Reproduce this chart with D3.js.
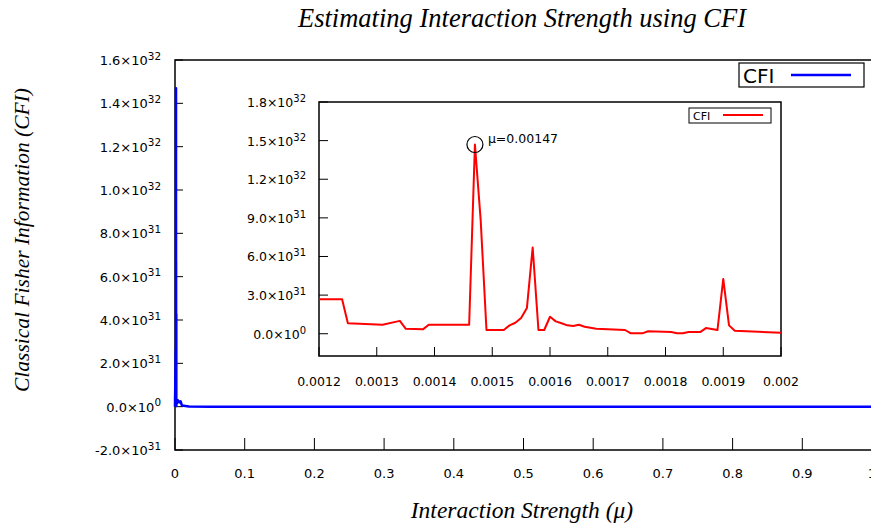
<!DOCTYPE html>
<html lang="en">
<head>
    <meta charset="UTF-8">
    <title>CFI</title>
    <script src="https://cdn.jsdelivr.net/npm/d3@7"></script>
    <style>
        body { margin: 0; background: #fff; }
        svg { display: block; }
        .tick-label { font-family: "DejaVu Sans", sans-serif; fill: #000; }
        .serif { font-family: "Liberation Serif", "Times New Roman", serif; font-style: italic; fill: #000; }
    </style>
</head>
<body>
<div id="chart"></div>
<script>
    // inset data (zoom on the peak region)
    var insetMu = [0.0012, 0.00124, 0.00125, 0.00131, 0.00134, 0.00135, 0.00138, 0.00139, 0.00146,
        0.00147, 0.00148, 0.00149, 0.00152, 0.00153, 0.00154, 0.00155, 0.00156, 0.00157, 0.00158,
        0.00159, 0.0016, 0.00161, 0.00162, 0.00163, 0.00164, 0.00165, 0.00166, 0.00168, 0.00173,
        0.00174, 0.00176, 0.00177, 0.00181, 0.00182, 0.00183, 0.00184, 0.00186, 0.00187, 0.00189,
        0.0019, 0.00191, 0.00192, 0.002];
    var insetCfi = [2.67e31, 2.67e31, 0.81e31, 0.70e31, 1.0e31, 0.39e31, 0.34e31, 0.70e31, 0.70e31,
        1.47e32, 8.8e31, 0.29e31, 0.29e31, 0.65e31, 0.85e31, 1.22e31, 1.99e31, 6.7e31, 0.29e31,
        0.29e31, 1.32e31, 0.96e31, 0.81e31, 0.65e31, 0.60e31, 0.70e31, 0.54e31, 0.39e31, 0.29e31,
        0.03e31, 0.03e31, 0.19e31, 0.13e31, 0.03e31, 0.03e31, 0.13e31, 0.13e31, 0.44e31, 0.29e31,
        4.26e31, 0.65e31, 0.23e31, 0.08e31];

    // rest of the full range for the main plot
    var headMu = [0.0001, 0.0005, 0.001];
    var headCfi = [0.4e31, 1.2e31, 2.5e31];
    var tailMu = [0.0025, 0.004, 0.006, 0.008, 0.01, 0.02, 0.05, 0.1, 0.2, 0.5, 1.0];
    var tailCfi = [0.15e31, 0.3e31, 0.2e31, 0.25e31, 0.05e31, 0.01e31, 0, 0, 0, 0, 0];

    var mainYTicks = [-2e31, 0, 2e31, 4e31, 6e31, 8e31, 1e32, 1.2e32, 1.4e32, 1.6e32];
    var mainXTicks = [0, 0.1, 0.2, 0.3, 0.4, 0.5, 0.6, 0.7, 0.8, 0.9, 1];
    var insetYTicks = [0, 3e31, 6e31, 9e31, 1.2e32, 1.5e32, 1.8e32];
    var insetXTicks = [0.0012, 0.0013, 0.0014, 0.0015, 0.0016, 0.0017, 0.0018, 0.0019, 0.002];

    var peakMu = 0.00147, peakCfi = 1.47e32;

    var width = 871, height = 525;

    var svg = d3.select("#chart").append("svg")
        .attr("width", width)
        .attr("height", height);

    // mantissa x 10^exp label
    function sciLabel(sel, v, size) {
        var m, e;
        if (v === 0) { m = "0.0"; e = "0"; }
        else {
            e = Math.floor(Math.log10(Math.abs(v)));
            m = (v / Math.pow(10, e)).toFixed(1);
        }
        sel.text(null);
        sel.append("tspan").text(m + "\u00d710");
        sel.append("tspan").attr("dy", -size * 0.4).attr("font-size", size * 0.8).text(e);
    }

    var mainData = headMu.concat(insetMu, tailMu).map(function (d, i) {
        return [d, headCfi.concat(insetCfi, tailCfi)[i]];
    });
    var insetData = insetMu.map(function (d, i) { return [d, insetCfi[i]]; });

    // ---- main plot
    var m = { left: 175, right: 872, top: 60, bottom: 450 };
    var x = d3.scaleLinear().domain([0, 1]).range([m.left, m.right]);
    var y = d3.scaleLinear().domain([-2e31, 1.6e32]).range([m.bottom, m.top]);

    var main = svg.append("g");

    main.append("rect")
        .attr("x", m.left).attr("y", m.top)
        .attr("width", m.right - m.left).attr("height", m.bottom - m.top)
        .attr("fill", "none").attr("stroke", "#000").attr("stroke-width", 1.5);

    main.selectAll(".ytick").data(mainYTicks).enter().append("line")
        .attr("x1", m.left).attr("x2", m.left + 8)
        .attr("y1", d => y(d)).attr("y2", d => y(d))
        .attr("stroke", "#000");

    main.selectAll(".ylab").data(mainYTicks).enter().append("text")
        .attr("class", "tick-label")
        .attr("x", 161).attr("y", d => y(d) + 5)
        .attr("text-anchor", "end").attr("font-size", 13)
        .each(function (d) { sciLabel(d3.select(this), d, 13); });

    main.selectAll(".xtick").data(mainXTicks).enter().append("line")
        .attr("x1", d => x(d)).attr("x2", d => x(d))
        .attr("y1", m.bottom).attr("y2", m.bottom - 12)
        .attr("stroke", "#000");

    main.selectAll(".xlab").data(mainXTicks).enter().append("text")
        .attr("class", "tick-label")
        .attr("x", d => x(d)).attr("y", 478)
        .attr("text-anchor", "middle").attr("font-size", 13)
        .text(d => d);

    var line = d3.line().x(d => x(d[0])).y(d => y(d[1]));
    main.append("path")
        .datum([[0, 0]].concat(mainData))
        .attr("d", line)
        .attr("fill", "none").attr("stroke", "#0000ff").attr("stroke-width", 2.5)
        .attr("stroke-linejoin", "round");

    // main legend
    main.append("rect").attr("x", 739).attr("y", 63).attr("width", 125).attr("height", 24)
        .attr("fill", "#fff").attr("stroke", "#000").attr("stroke-width", 1.2);
    main.append("text").attr("class", "tick-label").attr("x", 743).attr("y", 83)
        .attr("font-size", 20).text("CFI");
    main.append("line").attr("x1", 791).attr("x2", 851).attr("y1", 75).attr("y2", 75)
        .attr("stroke", "#0000ff").attr("stroke-width", 2.5);

    // ---- inset
    var n = { left: 319, right: 781, top: 102, bottom: 356 };
    var xi = d3.scaleLinear().domain([0.0012, 0.002]).range([n.left, n.right]);
    var yi = d3.scaleLinear().domain([-1.73e31, 1.8e32]).range([n.bottom, n.top]);

    var inset = svg.append("g");

    inset.append("rect")
        .attr("x", n.left).attr("y", n.top)
        .attr("width", n.right - n.left).attr("height", n.bottom - n.top)
        .attr("fill", "#fff").attr("stroke", "#000").attr("stroke-width", 1.5);

    inset.selectAll(".ytick").data(insetYTicks).enter().append("line")
        .attr("x1", n.left).attr("x2", n.left + 9)
        .attr("y1", d => yi(d)).attr("y2", d => yi(d))
        .attr("stroke", "#000");

    inset.selectAll(".ylab").data(insetYTicks).enter().append("text")
        .attr("class", "tick-label")
        .attr("x", 306).attr("y", d => yi(d) + 5)
        .attr("text-anchor", "end").attr("font-size", 12.5)
        .each(function (d) { sciLabel(d3.select(this), d, 12.5); });

    inset.selectAll(".xtick").data(insetXTicks).enter().append("line")
        .attr("x1", d => xi(d)).attr("x2", d => xi(d))
        .attr("y1", n.bottom).attr("y2", n.bottom - 9)
        .attr("stroke", "#000");

    inset.selectAll(".xlab").data(insetXTicks).enter().append("text")
        .attr("class", "tick-label")
        .attr("x", d => xi(d)).attr("y", 386)
        .attr("text-anchor", "middle").attr("font-size", 12.5)
        .text(d => d3.format("")(+d.toFixed(4)));

    var lineI = d3.line().x(d => xi(d[0])).y(d => yi(d[1]));
    inset.append("path")
        .datum(insetData)
        .attr("d", lineI)
        .attr("fill", "none").attr("stroke", "#ff0000").attr("stroke-width", 2)
        .attr("stroke-linejoin", "round");

    inset.append("circle")
        .attr("cx", xi(peakMu)).attr("cy", yi(peakCfi)).attr("r", 8)
        .attr("fill", "none").attr("stroke", "#000").attr("stroke-width", 1.2);
    inset.append("text").attr("class", "tick-label")
        .attr("x", xi(peakMu) + 13).attr("y", yi(peakCfi) - 1)
        .attr("font-size", 12.5).text("\u03bc=" + peakMu);

    // inset legend
    inset.append("rect").attr("x", 689).attr("y", 108).attr("width", 82).attr("height", 15)
        .attr("fill", "#fff").attr("stroke", "#000").attr("stroke-width", 1);
    inset.append("text").attr("class", "tick-label").attr("x", 693).attr("y", 120)
        .attr("font-size", 11).text("CFI");
    inset.append("line").attr("x1", 723).attr("x2", 763).attr("y1", 115).attr("y2", 115)
        .attr("stroke", "#ff0000").attr("stroke-width", 2);

    // ---- titles
    svg.append("text").attr("class", "serif")
        .attr("x", 522).attr("y", 27).attr("text-anchor", "middle")
        .attr("font-size", 26.5).text("Estimating Interaction Strength using CFI");
    svg.append("text").attr("class", "serif")
        .attr("x", 522).attr("y", 518).attr("text-anchor", "middle")
        .attr("font-size", 23.5).text("Interaction Strength (\u03bc)");
    svg.append("text").attr("class", "serif")
        .attr("transform", "translate(29,240) rotate(-90)").attr("text-anchor", "middle")
        .attr("font-size", 21.5).text("Classical Fisher Information (CFI)");
</script>
</body>
</html>
